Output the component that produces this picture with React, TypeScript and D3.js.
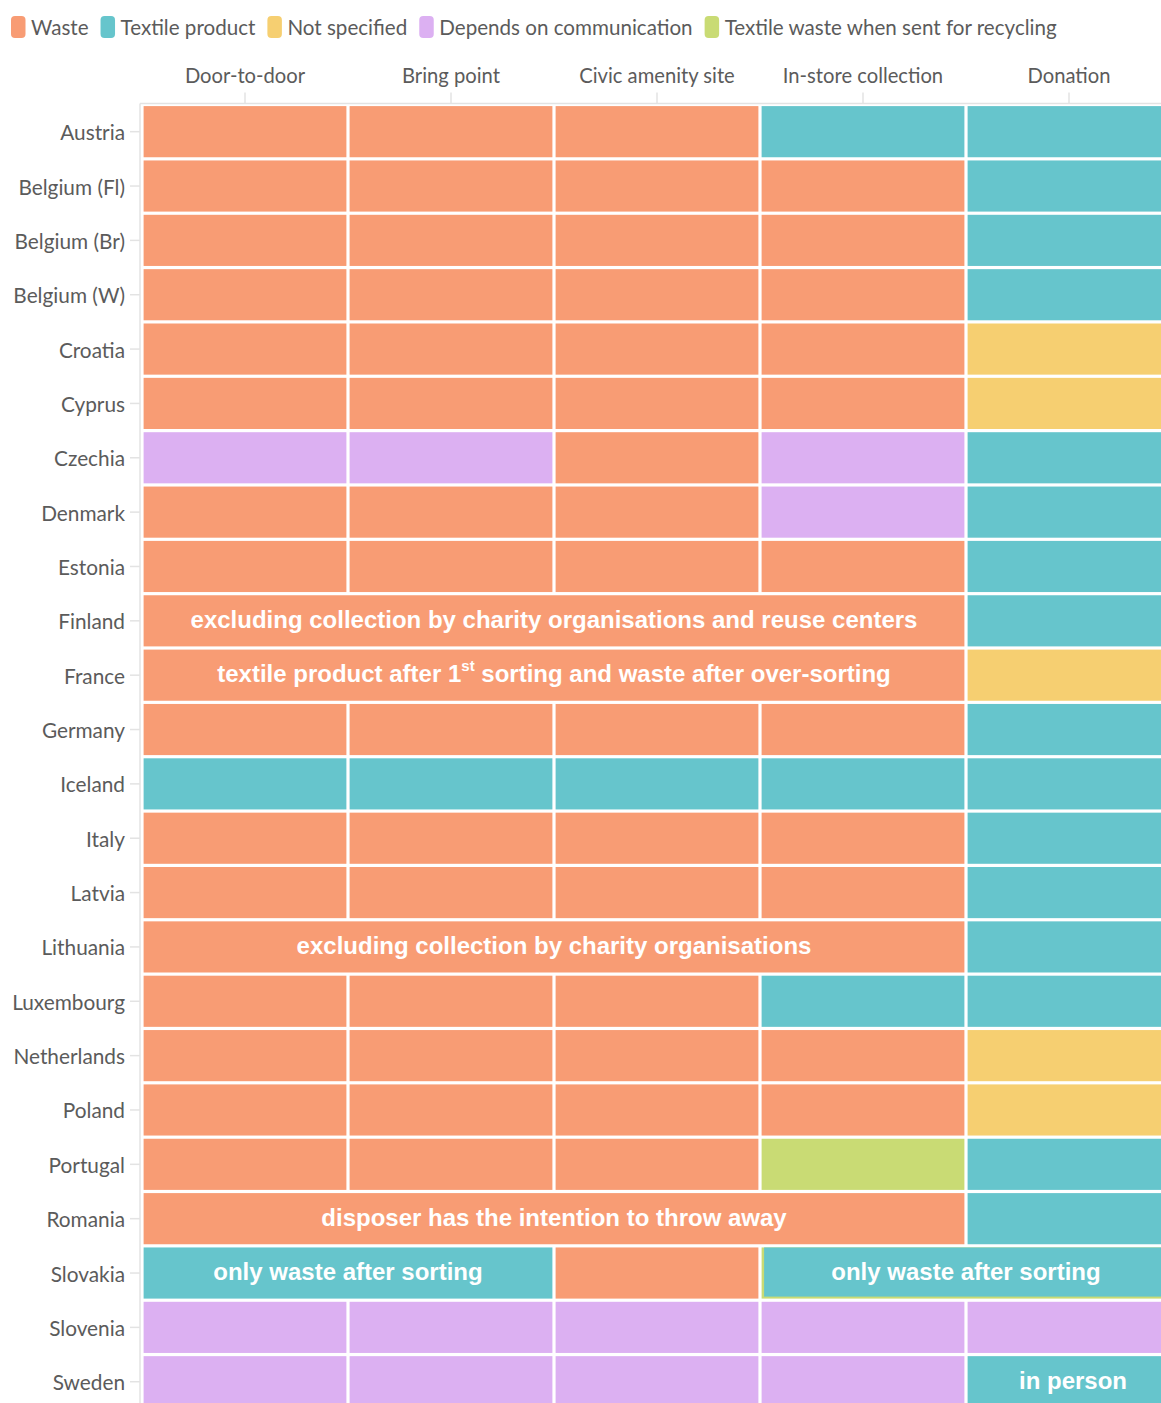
import React, { useEffect, useRef } from "react";
import * as d3 from "d3";

const columns = ["Door-to-door", "Bring point", "Civic amenity site", "In-store collection", "Donation"];

const categories = ["Waste", "Textile product", "Not specified", "Depends on communication", "Textile waste when sent for recycling"];
const categoryCodes = ["W", "T", "N", "D", "R"];
const categoryColors = ["#F89C74", "#66C5CC", "#F6CF71", "#DCB0F2", "#C9DB74"];

const countries = [
  "Austria", "Belgium (Fl)", "Belgium (Br)", "Belgium (W)", "Croatia", "Cyprus", "Czechia", "Denmark",
  "Estonia", "Finland", "France", "Germany", "Iceland", "Italy", "Latvia", "Lithuania", "Luxembourg",
  "Netherlands", "Poland", "Portugal", "Romania", "Slovakia", "Slovenia", "Sweden",
];

const cellCodes = [
  "WWWTT", // Austria
  "WWWWT", // Belgium (Fl)
  "WWWWT", // Belgium (Br)
  "WWWWT", // Belgium (W)
  "WWWWN", // Croatia
  "WWWWN", // Cyprus
  "DDWDT", // Czechia
  "WWWDT", // Denmark
  "WWWWT", // Estonia
  "WWWWT", // Finland
  "WWWWN", // France
  "WWWWT", // Germany
  "TTTTT", // Iceland
  "WWWWT", // Italy
  "WWWWT", // Latvia
  "WWWWT", // Lithuania
  "WWWTT", // Luxembourg
  "WWWWN", // Netherlands
  "WWWWN", // Poland
  "WWWRT", // Portugal
  "WWWWT", // Romania
  "TTWTT", // Slovakia
  "DDDDD", // Slovenia
  "DDDDT", // Sweden
];

// merged cells: country, first column, last column, category code, label, underlying code
const mergeCountries = ["Finland", "France", "Lithuania", "Romania", "Slovakia", "Slovakia", "Sweden"];
const mergeFrom = [0, 0, 0, 0, 0, 3, 4];
const mergeTo = [3, 3, 3, 3, 1, 4, 4];
const mergeCodes = ["W", "W", "W", "W", "T", "T", "T"];
const mergeUnder = ["", "", "", "", "", "R", ""];
const mergeLabels = [
  "excluding collection by charity organisations and reuse centers",
  "textile product after 1^st^ sorting and waste after over-sorting",
  "excluding collection by charity organisations",
  "disposer has the intention to throw away",
  "only waste after sorting",
  "only waste after sorting",
  "in person",
];

export default function App() {
  const ref = useRef<SVGSVGElement>(null);

  useEffect(() => {
    document.body.style.margin = "0";
    const svg = d3.select(ref.current);
    svg.selectAll("*").remove();

    const W = 1161, H = 1403;
    const left = 142, top = 104.5;
    const colW = 206, rowH = 54.35;
    const labelFont = "Lato, 'Open Sans', sans-serif";
    const textColor = "#5b5b5b";
    const color = d3.scaleOrdinal<string, string>().domain(categoryCodes).range(categoryColors);

    const x = d3.scaleBand<string>().domain(columns).range([left, left + colW * columns.length]).padding(0);
    const y = d3.scaleBand<string>().domain(countries).range([top, top + rowH * countries.length]).padding(0);
    const bw = x.bandwidth(), bh = y.bandwidth();
    const gap = 1.6;

    // axis lines
    const axisColor = "#e3e3e3";
    svg.append("line").attr("x1", left - 2).attr("x2", W).attr("y1", top - 1).attr("y2", top - 1)
      .attr("stroke", axisColor).attr("stroke-width", 1.5);
    svg.append("line").attr("x1", left - 2).attr("x2", left - 2).attr("y1", top - 1).attr("y2", H)
      .attr("stroke", axisColor).attr("stroke-width", 1.5);

    // ticks & labels (top)
    const gTop = svg.append("g");
    columns.forEach((c) => {
      const cx = x(c)! + bw / 2;
      gTop.append("line").attr("x1", cx).attr("x2", cx).attr("y1", top - 12).attr("y2", top - 1)
        .attr("stroke", axisColor).attr("stroke-width", 1.5);
      gTop.append("text").attr("x", cx).attr("y", 74.5).attr("text-anchor", "middle")
        .attr("dominant-baseline", "central").attr("font-family", labelFont).attr("font-size", 20.2)
        .attr("fill", textColor).text(c);
    });

    // left labels
    const gLeft = svg.append("g");
    countries.forEach((c) => {
      const cy = y(c)! + bh / 2;
      gLeft.append("line").attr("x1", left - 12).attr("x2", left - 2).attr("y1", cy).attr("y2", cy)
        .attr("stroke", axisColor).attr("stroke-width", 1.5);
      gLeft.append("text").attr("x", 125).attr("y", cy).attr("text-anchor", "end")
        .attr("dominant-baseline", "central").attr("font-family", labelFont).attr("font-size", 20.8)
        .attr("fill", textColor).text(c);
    });

    // cells
    const gCells = svg.append("g");
    const isMerged = (ci: number, col: number) =>
      mergeCountries.some((m, k) => m === countries[ci] && col >= mergeFrom[k] && col <= mergeTo[k]);
    countries.forEach((c, ci) => {
      columns.forEach((col, j) => {
        if (isMerged(ci, j)) return;
        gCells.append("rect")
          .attr("x", x(col)! + gap).attr("y", y(c)! + gap)
          .attr("width", bw - 2 * gap).attr("height", bh - 2 * gap)
          .attr("fill", color(cellCodes[ci][j]));
      });
    });

    // merged cells
    mergeCountries.forEach((m, k) => {
      const x0 = x(columns[mergeFrom[k]])! + gap;
      const x1 = x(columns[mergeTo[k]])! + bw - gap;
      const y0 = y(m)! + gap;
      const h = bh - 2 * gap;
      if (mergeUnder[k]) {
        gCells.append("rect").attr("x", x0).attr("y", y0).attr("width", x1 - x0).attr("height", h)
          .attr("fill", color(mergeUnder[k]));
        gCells.append("rect").attr("x", x0 + 2.5).attr("y", y0).attr("width", x1 - x0 - 2.5).attr("height", h - 2)
          .attr("fill", color(mergeCodes[k]));
      } else {
        gCells.append("rect").attr("x", x0).attr("y", y0).attr("width", x1 - x0).attr("height", h)
          .attr("fill", color(mergeCodes[k]));
      }
      const t = gCells.append("text").attr("x", (x0 + x1) / 2 + (mergeFrom[k] === 4 ? 4 : 0)).attr("y", y0 + h / 2 - 2)
        .attr("text-anchor", "middle").attr("dominant-baseline", "central")
        .attr("font-family", "'Liberation Sans', Arial, sans-serif").attr("font-weight", "bold")
        .attr("font-size", 24).attr("fill", "#ffffff");
      const parts = mergeLabels[k].split("^");
      parts.forEach((p, pi) => {
        if (pi % 2 === 1) {
          t.append("tspan").attr("font-size", 15).attr("dy", -8).text(p);
        } else if (pi > 0) {
          t.append("tspan").attr("dy", 8).text(p);
        } else {
          t.append("tspan").text(p);
        }
      });
    });

    // legend
    const gLeg = svg.append("g");
    let lx = 11;
    categories.forEach((cat, i) => {
      gLeg.append("rect").attr("x", lx).attr("y", 16).attr("width", 14.5).attr("height", 22).attr("rx", 4)
        .attr("fill", categoryColors[i]);
      const tx = gLeg.append("text").attr("x", lx + 20).attr("y", 26.5).attr("dominant-baseline", "central")
        .attr("font-family", labelFont).attr("font-size", 20.6).attr("fill", textColor).text(cat);
      const w = (tx.node() as SVGTextElement).getComputedTextLength();
      lx = lx + 20 + w + 12;
    });
  }, []);

  return <svg ref={ref} width={1161} height={1403} style={{ display: "block", background: "#fff" }} />;
}
